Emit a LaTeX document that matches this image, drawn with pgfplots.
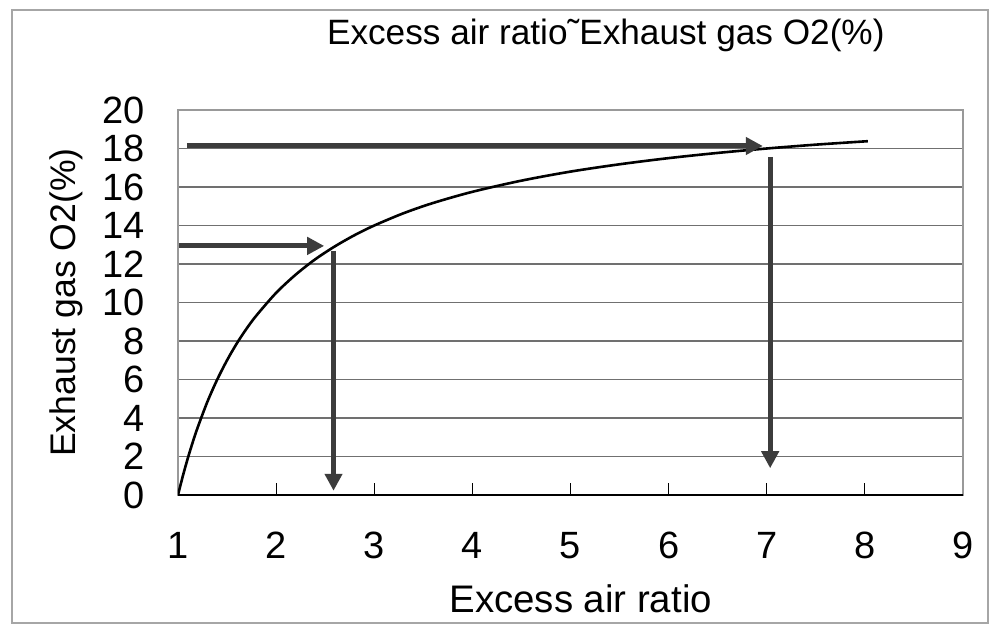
\documentclass[border=0pt]{standalone}
\usepackage{pgfplots}
\pgfplotsset{compat=1.18}
\usepackage{fontspec}
\setmainfont{Liberation Sans}
\usetikzlibrary{arrows.meta}
\definecolor{arrowgray}{HTML}{3C3C3C}
\definecolor{gridgray}{HTML}{707070}
\begin{document}
\begin{tikzpicture}
\useasboundingbox (-89pt,-66pt) rectangle (406.5pt,247.5pt);
\fill[white] (-89pt,-66pt) rectangle (406.5pt,247.5pt);
\draw[gray!70, line width=0.9pt] (-83pt,-64pt) rectangle (405pt,242.5pt);
\begin{axis}[
  at={(0,0)}, anchor=south west,
  scale only axis,
  width=392.5pt, height=192.5pt,
  xmin=1, xmax=9, ymin=0, ymax=20,
  xtick={1,2,...,9}, ytick={0,2,...,20},
  xtick pos=bottom, ytick pos=left,
  tick align=inside,
  major tick length=6pt,
  ytick style={draw=none},
  xtick style={black, line width=0.6pt},
  ymajorgrids,
  grid style={gridgray, line width=0.7pt},
  axis line style={gray!80, line width=0.8pt},
  extra y ticks={0}, extra y tick labels={},
  extra y tick style={grid=major, major grid style={black, line width=1pt}},
  /pgf/number format/assume math mode=true,
  xticklabel style={font=\fontsize{19}{22}\selectfont, yshift=-15pt},
  yticklabel style={font=\fontsize{19}{22}\selectfont, xshift=-13pt},
  title={Excess air ratio˜Exhaust gas O2(\%)},
  title style={at={(axis description cs:0.545,1.140)}, anchor=base, font=\fontsize{17.6}{20}\selectfont},
  xlabel={Excess air ratio},
  xlabel style={at={(axis description cs:0.513,-0.304)}, anchor=base, font=\fontsize{19.2}{22}\selectfont},
  ylabel={Exhaust gas O2(\%)},
  ylabel style={at={(axis description cs:-0.131,0.5)}, anchor=base, rotate=0, font=\fontsize{17.8}{20}\selectfont},
]
\addplot[black, line width=1.3pt, smooth] coordinates {
(1.0,0) (1.05,1.0) (1.1,1.91) (1.15,2.74) (1.2,3.5) (1.3,4.85) (1.4,6.0)
(1.5,7.0) (1.6,7.88) (1.7,8.65) (1.8,9.33) (2.0,10.5) (2.2,11.45) (2.4,12.25)
(2.6,12.92) (2.8,13.5) (3.0,14.0) (3.3,14.64) (3.6,15.17) (4.0,15.75)
(4.5,16.33) (5.0,16.8) (5.5,17.18) (6.0,17.5) (6.5,17.77) (7.0,18.0)
(7.5,18.2) (8.03,18.38)
};
\addplot[arrowgray, line width=2.5pt, -{Triangle[length=8.5pt,width=8.5pt]}] coordinates {(1.09,18.13) (6.96,18.13)};
\addplot[arrowgray, line width=2.5pt, -{Triangle[length=8.5pt,width=8.5pt]}] coordinates {(1.01,12.94) (2.49,12.94)};
\addplot[arrowgray, line width=2.5pt, -{Triangle[length=8.5pt,width=8.5pt]}] coordinates {(2.585,12.68) (2.585,0.22)};
\addplot[arrowgray, line width=2.5pt, -{Triangle[length=8.5pt,width=8.5pt]}] coordinates {(7.035,17.57) (7.035,1.39)};
\end{axis}
\end{tikzpicture}
\end{document}
